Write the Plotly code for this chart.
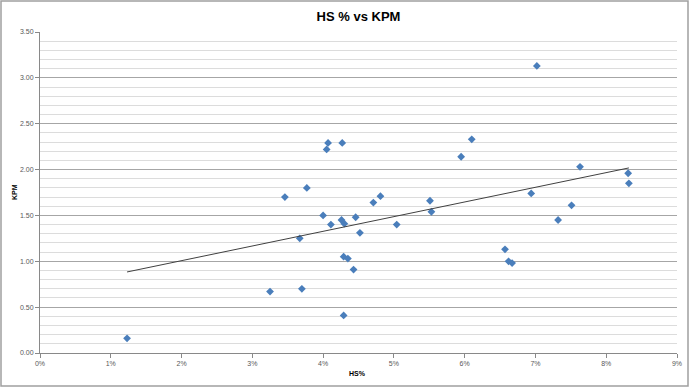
import numpy as np
import plotly.graph_objects as go

# HS% (as fraction) and KPM values
hs_pct = [0.0123, 0.0325, 0.0370, 0.0346, 0.0377, 0.0367, 0.0400, 0.0411, 0.0405, 0.0407,
          0.0427, 0.0426, 0.0430, 0.0429, 0.0435, 0.0429, 0.0443, 0.0446, 0.0452, 0.0471,
          0.0481, 0.0504, 0.0551, 0.0553, 0.0595, 0.0610, 0.0657, 0.0662, 0.0667, 0.0702,
          0.0694, 0.0732, 0.0751, 0.0763, 0.0831, 0.0832]
kpm = [0.16, 0.67, 0.70, 1.70, 1.80, 1.25, 1.50, 1.40, 2.22, 2.29,
       2.29, 1.45, 1.41, 1.05, 1.03, 0.41, 0.91, 1.48, 1.31, 1.64,
       1.71, 1.40, 1.66, 1.54, 2.14, 2.33, 1.13, 1.00, 0.98, 3.13,
       1.74, 1.45, 1.61, 2.03, 1.96, 1.85]

x_ticks = [i / 100 for i in range(0, 10)]
x_tick_labels = [f"{i}%" for i in range(0, 10)]
y_ticks = [0.0, 0.5, 1.0, 1.5, 2.0, 2.5, 3.0, 3.5]
y_tick_labels = [f"{v:.2f}" for v in y_ticks]

# linear trendline (least squares)
coef = np.polyfit(hs_pct, kpm, 1)
tx = [min(hs_pct), max(hs_pct)]
ty = [coef[0] * v + coef[1] for v in tx]

font = "Liberation Sans"
L, R, T, B = 40, 13, 32, 35
PW, PH = 690 - L - R, 388 - T - B

fig = go.Figure()
fig.add_trace(go.Scatter(
    x=hs_pct, y=kpm, mode="markers",
    marker=dict(symbol="diamond", size=6, color="#4a7ebb"),
    showlegend=False, hoverinfo="skip"))
fig.add_trace(go.Scatter(
    x=tx, y=ty, mode="lines", line=dict(color="#404040", width=1),
    showlegend=False, hoverinfo="skip"))

fig.update_layout(
    width=690, height=388,
    margin=dict(l=L, r=R, t=T, b=B, autoexpand=False),
    paper_bgcolor="white", plot_bgcolor="white",
    title=dict(text="<b>HS % vs KPM</b>", x=(L + PW / 2) / 690, xanchor="center",
               y=1 - 16 / 388, yanchor="middle",
               font=dict(family=font, size=13, color="black")),
    xaxis=dict(range=[0, 0.09], tickvals=x_ticks, ticktext=x_tick_labels,
               showgrid=False, zeroline=False, showline=True, linecolor="#898989",
               linewidth=1, ticks="outside", ticklen=4, tickcolor="#898989",
               automargin=False,
               tickfont=dict(family=font, size=7, color="#595959")),
    yaxis=dict(range=[0, 3.5], tickvals=y_ticks, ticktext=y_tick_labels,
               showgrid=True, gridcolor="#a6a6a6", gridwidth=1,
               zeroline=False, showline=True, linecolor="#898989", linewidth=1,
               ticks="outside", ticklen=4, tickcolor="#898989",
               automargin=False,
               tickfont=dict(family=font, size=7, color="#595959"),
               minor=dict(dtick=0.1, showgrid=True, gridcolor="#dcdcdc", gridwidth=1)),
    annotations=[
        dict(text="<b>HS%</b>", xref="paper", yref="paper",
             x=(357 - L) / PW, y=(353 - 374) / PH, showarrow=False,
             xanchor="center", yanchor="middle",
             font=dict(family=font, size=7, color="black")),
        dict(text="<b>KPM</b>", xref="paper", yref="paper",
             x=(14 - L) / PW, y=(353 - 192) / PH, showarrow=False, textangle=-90,
             xanchor="center", yanchor="middle",
             font=dict(family=font, size=7, color="black")),
    ],
    shapes=[dict(type="rect", xref="paper", yref="paper",
                 x0=(1 - L) / PW, x1=(688 - L) / PW,
                 y0=(353 - 386) / PH, y1=(353 - 1) / PH,
                 line=dict(color="#a0a0a0", width=1.5), layer="below")],
)

fig.write_html("out.html", config={"displayModeBar": False},
               post_script="document.body.style.margin='0';document.body.style.overflow='hidden';")
